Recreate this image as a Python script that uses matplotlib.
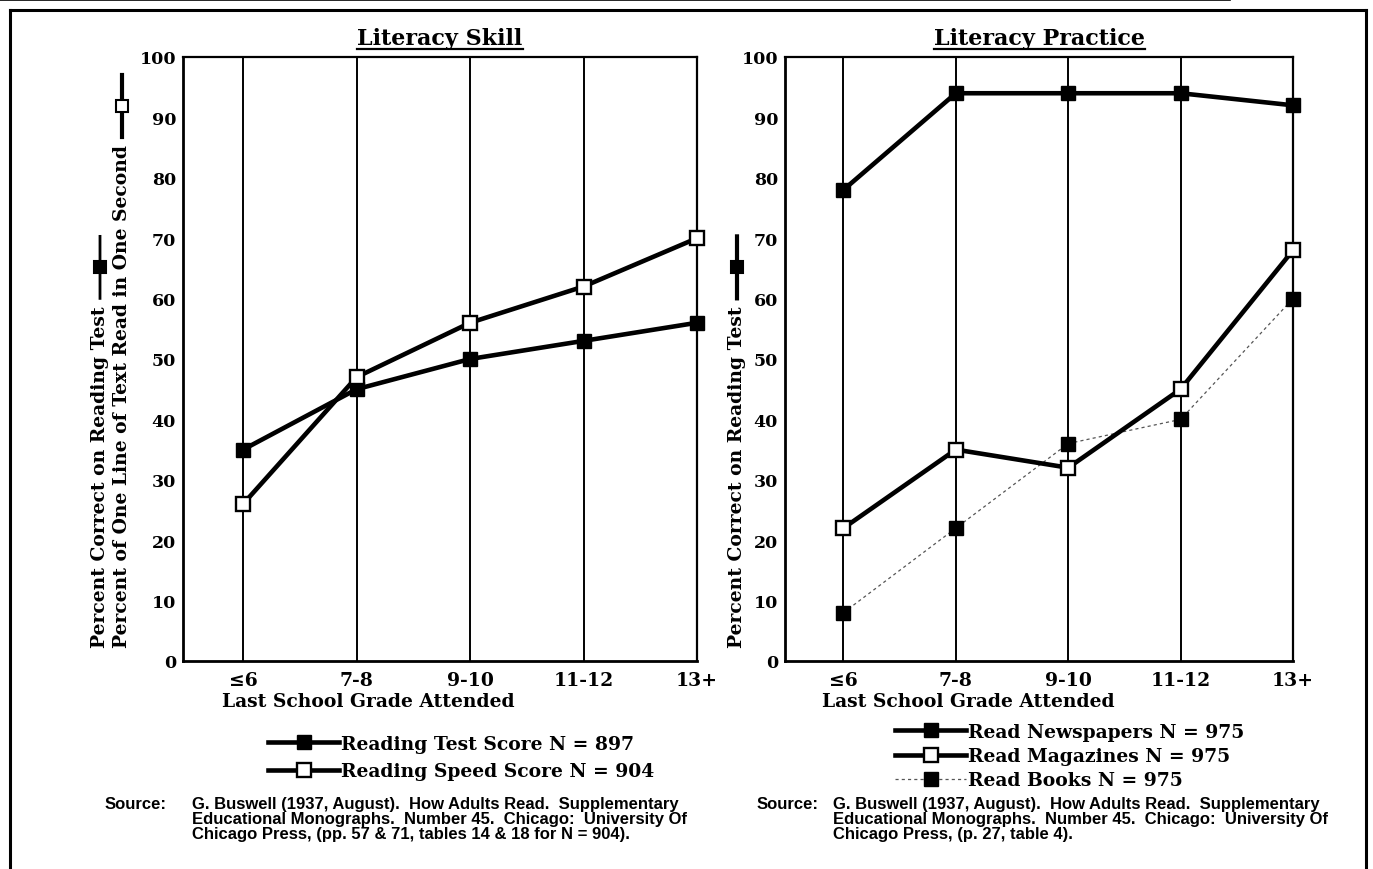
import matplotlib
matplotlib.use("Agg")
import matplotlib.pyplot as plt
from matplotlib.lines import Line2D

plt.rcParams.update({
    "font.family": ["DejaVu Serif", "DejaVu Sans"],
    "font.weight": "bold",
    "axes.labelweight": "bold",
    "axes.titleweight": "bold",
})

# ---- data ----
grades = ["≤6", "7-8", "9-10", "11-12", "13+"]
reading_test = [35, 45, 50, 53, 56]
reading_speed = [26, 47, 56, 62, 70]
newspapers = [78, 94, 94, 94, 92]
magazines = [22, 35, 32, 45, 68]
books = [8, 22, 36, 40, 60]

W, H = 1373, 870
fig = plt.figure(figsize=(W / 100, H / 100), dpi=100)


def fx(px):
    return px / W


def fy(py):
    return 1 - py / H


def box(x0, x1, y0, y1):
    return [fx(x0), fy(y1), fx(x1) - fx(x0), fy(y0) - fy(y1)]


ax1 = fig.add_axes(box(183, 697, 58, 662))
ax2 = fig.add_axes(box(785, 1293, 58, 662))

xs = list(range(len(grades)))
LW = 3.3
MS = 10.5
FS = 13.5

for ax in (ax1, ax2):
    ax.set_ylim(0, 100)
    ax.set_yticks(range(0, 101, 10))
    ax.set_xticks(xs)
    ax.set_xticklabels(grades, fontsize=FS)
    ax.tick_params(axis="y", length=0, labelsize=12.5, pad=5)
    ax.tick_params(axis="x", length=0, pad=7)
    ax.grid(axis="x", color="black", linewidth=1.4)
    ax.set_axisbelow(True)
    for s in ["left", "bottom"]:
        ax.spines[s].set_linewidth(2.0)
    for s in ["top", "right"]:
        ax.spines[s].set_linewidth(1.6)
    ax.text(0.36, -0.066, "Last School Grade Attended", transform=ax.transAxes,
            ha="center", va="center", fontsize=FS)

ax1.set_xlim(-0.53, 4.0)
ax2.set_xlim(-0.52, 4.0)

# ---- left panel: literacy skill ----
l1, = ax1.plot(xs, reading_test, color="black", lw=LW, marker="s", ms=MS,
               mfc="black", mec="black", zorder=3, clip_on=False)
l2, = ax1.plot(xs, reading_speed, color="black", lw=LW, marker="s", ms=MS,
               mfc="white", mec="black", mew=1.7, zorder=4, clip_on=False)

# ---- right panel: literacy practice ----
r1, = ax2.plot(xs, newspapers, color="black", lw=LW, marker="s", ms=MS,
               mfc="black", mec="black", zorder=3, clip_on=False)
r3, = ax2.plot(xs, books, color="#555555", lw=0.9, dashes=(2.5, 2.5),
               marker="s", ms=MS, mfc="black", mec="black", zorder=3, clip_on=False)
r2, = ax2.plot(xs, magazines, color="black", lw=LW, marker="s", ms=MS,
               mfc="white", mec="black", mew=1.7, zorder=4, clip_on=False)

# ---- titles ----
t1 = ax1.set_title("Literacy Skill", fontsize=16, pad=9)
t2 = ax2.set_title("Literacy Practice", fontsize=16, pad=9)

# ---- y labels (text plus a small line/marker key drawn after it) ----
ylab = [
    (100, "Percent Correct on Reading Test", "black", 2.0),
    (122, "Percent of One Line of Text Read in One Second", "white", 3.0),
    (737, "Percent Correct on Reading Test", "black", 3.0),
]
ylab_texts = []
for xp, s, face, lw in ylab:
    t = fig.text(fx(xp), fy(648), s, rotation=90, ha="center", va="bottom", fontsize=FS)
    ylab_texts.append((t, xp, face, lw))

# ---- legends ----
leg_kw = dict(loc="upper left", frameon=False, fontsize=FS, handlelength=3.8,
              handletextpad=0.1, borderpad=0, borderaxespad=0)
fig.legend([l1, l2], ["Reading Test Score N = 897", "Reading Speed Score N = 904"],
           bbox_to_anchor=(fx(268), fy(736)), labelspacing=0.5, **leg_kw)
fig.legend([r1, r2, r3], ["Read Newspapers N = 975", "Read Magazines N = 975",
                          "Read Books N = 975"],
           bbox_to_anchor=(fx(895), fy(724)), labelspacing=0.33, **leg_kw)

# ---- sources ----
src_font = dict(family=["Liberation Sans Narrow", "Liberation Sans", "DejaVu Sans"],
                fontweight="bold", fontsize=12, va="top", ha="left", linespacing=1.0)
fig.text(fx(105), fy(797), "Source:", **src_font)
fig.text(fx(192), fy(797),
         "G. Buswell (1937, August).  How Adults Read.  Supplementary\n"
         "Educational Monographs.  Number 45.  Chicago:  University Of\n"
         "Chicago Press, (pp. 57 & 71, tables 14 & 18 for N = 904).", **src_font)
fig.text(fx(757), fy(797), "Source:", **src_font)
fig.text(fx(833), fy(797),
         "G. Buswell (1937, August).  How Adults Read.  Supplementary\n"
         "Educational Monographs.  Number 45.  Chicago:  University Of\n"
         "Chicago Press, (p. 27, table 4).", **src_font)

# ---- outer frame of the scanned page ----
frame = dict(color="black", lw=2.2, transform=fig.transFigure)
fig.add_artist(Line2D([fx(10), fx(1366)], [fy(11), fy(11)], **frame))
fig.add_artist(Line2D([fx(10), fx(10)], [fy(11), 0], **frame))
fig.add_artist(Line2D([fx(1366), fx(1366)], [fy(11), 0], **frame))
fig.add_artist(Line2D([0, fx(1230)], [fy(1), fy(1)], color="black", lw=1.2,
                      transform=fig.transFigure))

fig.canvas.draw()
r = fig.canvas.get_renderer()

# underline titles
for t in (t1, t2):
    bb = t.get_window_extent(r)
    y = bb.y0 + 1
    fig.add_artist(Line2D([bb.x0 / W, bb.x1 / W], [y / H, y / H], color="black", lw=1.6,
                          transform=fig.transFigure))

# key symbols at the end of the y labels (one line + marker artist, not snapped)
for t, xp, face, lw in ylab_texts:
    bb = t.get_window_extent(r)
    xc = (bb.x0 + bb.x1) / 2 / W
    y0 = bb.y1 + 7
    y1 = y0 + 62
    ym = (y0 + y1) / 2
    key = Line2D([xc, xc, xc], [y0 / H, ym / H, y1 / H], color="black", lw=lw,
                 marker="s", markevery=[1], ms=8.5, mfc=face, mec="black", mew=1.5,
                 transform=fig.transFigure)
    key.set_snap(False)
    fig.add_artist(key)

fig.savefig("out.png", dpi=100)
